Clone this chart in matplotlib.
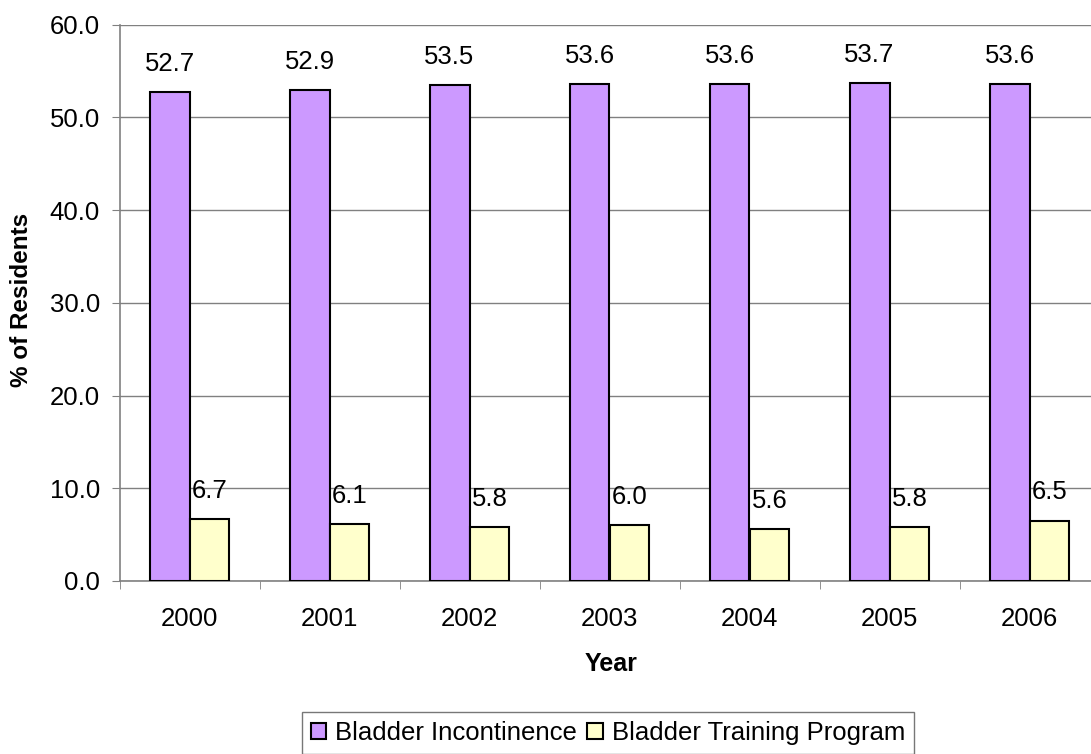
import matplotlib.pyplot as plt
import numpy as np

plt.rcParams['font.family'] = ['Liberation Sans', 'DejaVu Sans']

# Data
years = ['2000', '2001', '2002', '2003', '2004', '2005', '2006']
incontinence = [52.7, 52.9, 53.5, 53.6, 53.6, 53.7, 53.6]
training = [6.7, 6.1, 5.8, 6.0, 5.6, 5.8, 6.5]

W, H = 1091, 754
fig = plt.figure(figsize=(W / 100, H / 100), dpi=100)
# axes in pixel terms: left 119.5, right 1099.5, top 24.6, bottom 581
ax = fig.add_axes([119.5 / W, 1 - 581 / H, 980 / W, (581 - 24.6) / H])

fs = 18.5
x = np.arange(len(years))
w = 0.2857
b1 = ax.bar(x - w / 2, incontinence, w, color='#CC99FF', edgecolor='black',
            linewidth=1.5, label='Bladder Incontinence', zorder=3)
b2 = ax.bar(x + w / 2, training, w, color='#FFFFCC', edgecolor='black',
            linewidth=1.5, label='Bladder Training Program', zorder=3)

for xi, v in zip(x, incontinence):
    ax.text(xi - w / 2, v + 3.05, f'{v:.1f}', ha='center', va='center', fontsize=fs)
for xi, v in zip(x, training):
    ax.text(xi + w / 2, v + 3.05, f'{v:.1f}', ha='center', va='center', fontsize=fs)

ax.set_xlim(-0.5, 6.5)
ax.set_ylim(0, 60)
ax.set_yticks(np.arange(0, 61, 10))
ax.set_yticklabels([f'{t:.1f}' for t in np.arange(0, 61, 10)], fontsize=fs)
ax.set_xticks(x)
ax.set_xticklabels(years, fontsize=fs)
ax.tick_params(axis='x', which='major', length=0, pad=19)
ax.set_xticks(np.arange(-0.5, 6.6, 1), minor=True)
ax.tick_params(axis='x', which='minor', length=6, direction='out', color='#808080')
ax.tick_params(axis='y', length=6, direction='out', color='#808080', pad=8)

ax.grid(axis='y', color='#808080', linewidth=1, zorder=0)
for s in ['top', 'right']:
    ax.spines[s].set_visible(False)
for s in ['left', 'bottom']:
    ax.spines[s].set_color('#808080')
    ax.spines[s].set_linewidth(1.2)

fig.text(611 / W, 1 - 664 / H, 'Year', fontsize=18, fontweight='bold',
         ha='center', va='center')
fig.text(22 / W, 1 - 300 / H, '% of Residents', fontsize=17.5, fontweight='bold',
         ha='center', va='center', rotation=90)

leg = fig.legend(handles=[b1, b2], loc='upper center',
                 bbox_to_anchor=(608 / W, 1 - 712 / H),
                 ncol=2, fontsize=fs, frameon=True, fancybox=False,
                 edgecolor='#555555', handlelength=0.6, handleheight=0.6,
                 handletextpad=0.35, columnspacing=0.4, borderpad=0.35,
                 borderaxespad=0)
leg.get_frame().set_linewidth(1.0)

fig.savefig('out.png', dpi=100)
